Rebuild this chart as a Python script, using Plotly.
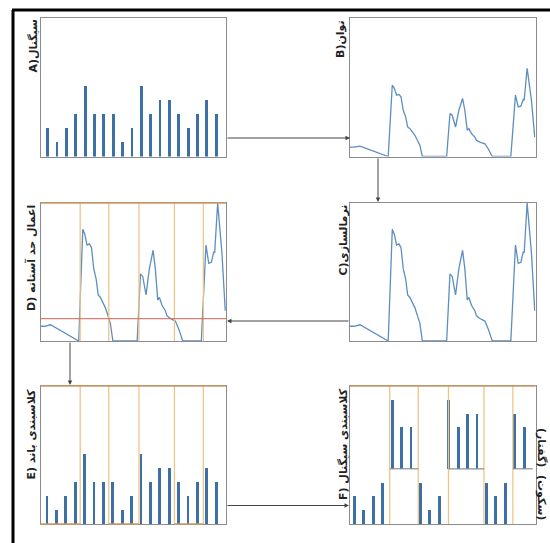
import plotly.graph_objects as go

W, H = 550, 543

# ---------------- data ----------------
bar_idx = list(range(19))
bar_vals = [2, 1, 2, 3, 5, 3, 3, 3, 1, 2, 5, 3, 4, 4, 3, 2, 3, 4, 3]
speech_flag = [0, 0, 0, 0, 1, 1, 1, 0, 0, 0, 1, 1, 1, 1, 0, 0, 0, 1, 1]

env_x = [0, 2.2, 5.4, 20.6, 22.8, 23.9, 25.1, 26.4, 27.5, 28.7, 30.0, 31.1, 32.3, 33.6,
         35.0, 36.4, 37.7, 39.0, 52.1, 53.9, 55.1, 56.9, 58.7, 60.7, 61.9, 63.2, 64.1,
         65.5, 67.3, 68.2, 70.0, 72.7, 74.5, 76.7, 86.7, 89.2, 90.7, 92.1, 93.4, 93.9,
         95.5, 97.8, 99.6]
env_y = [6.8, 6.8, 7.5, 0, 51.6, 49.2, 44.3, 44.8, 43.1, 33.4, 28.6, 21.3, 20.1, 17.7,
         15.3, 11.6, 8.0, 0, 0, 31.0, 29.8, 21.3, 33.4, 41.9, 33.4, 18.9, 20.1,
         16.5, 14.0, 11.6, 10.4, 9.2, 5.6, 0, 0, 44.3, 35.8, 36.3, 41.2, 40.7,
         63.7, 40.7, 14.0]
threshold = 10.3
seg_bounds = [21.4, 36.8, 53.1, 72.2, 87.8]   # percent of time axis
speech_base = 4

labels = {
    "A": "A)سیگنال",
    "B": "B)توان",
    "C": "C)نرمالسازی",
    "D": "D) اعمال حد آستانه",
    "E": "E) کلاسبندی باند",
    "F": "F) کلاسبندی سیگنال",
}
speech_txt = "(گفتار)"
silence_txt = "(سکوت)"

# --------------- layout helpers ---------------
def px(x):
    return x / W

def py(y):
    return 1 - y / H

LX = (40.5, 226)
RX = (350, 535.5)
R1 = (18, 156.5)
R2 = (203, 341)
R3 = (386, 524)

panels = {
    "A": (LX, R1, [-0.71, 19.1], [0, 9.8]),
    "B": (RX, R1, [0, 100], [0, 100]),
    "C": (RX, R2, [0, 100], [0, 63.7]),
    "D": (LX, R2, [0, 100], [0, 63.7]),
    "E": (LX, R3, [-0.64, 19.1], [0, 9.8]),
    "F": (RX, R3, [-0.46, 19.2], [0, 10]),
}
order = ["A", "B", "C", "D", "E", "F"]

fig = go.Figure()
layout = dict(width=W, height=H, margin=dict(l=0, r=0, t=0, b=0),
              paper_bgcolor="white", plot_bgcolor="white", showlegend=False)

axref = {}
for i, k in enumerate(order):
    n = "" if i == 0 else str(i + 1)
    (x0, x1), (y0, y1), xr, yr = panels[k]
    common = dict(showticklabels=False, showgrid=False, zeroline=False, ticks="",
                  showline=True, mirror=True, linecolor="#8c8c8c", linewidth=1.3,
                  fixedrange=True)
    layout["xaxis" + n] = dict(domain=[px(x0), px(x1)], range=xr, anchor="y" + n, **common)
    layout["yaxis" + n] = dict(domain=[py(y1), py(y0)], range=yr, anchor="x" + n, **common)
    axref[k] = ("x" + n, "y" + n)

BAR = "#3d71a5"
LINE = "#5b8fbf"
BW = 0.3

# A: signal bars
fig.add_trace(go.Bar(x=bar_idx, y=bar_vals, width=BW, marker_color=BAR,
                     marker_line_width=0, xaxis=axref["A"][0], yaxis=axref["A"][1]))
# B, C, D: envelope
for k in ["B", "C", "D"]:
    fig.add_trace(go.Scatter(x=env_x, y=env_y, mode="lines",
                             line=dict(color=LINE, width=1.3),
                             xaxis=axref[k][0], yaxis=axref[k][1]))
# E: bars
fig.add_trace(go.Bar(x=bar_idx, y=bar_vals, width=BW, marker_color=BAR,
                     marker_line_width=0, xaxis=axref["E"][0], yaxis=axref["E"][1]))
# F: bars split to speech / silence
sp_x = [x for x, f in zip(bar_idx, speech_flag) if f]
sp_y = [v for v, f in zip(bar_vals, speech_flag) if f]
si_x = [x for x, f in zip(bar_idx, speech_flag) if not f]
si_y = [v for v, f in zip(bar_vals, speech_flag) if not f]
fig.add_trace(go.Bar(x=sp_x, y=sp_y, base=[speech_base] * len(sp_x), width=BW,
                     marker_color=BAR, marker_line_width=0,
                     xaxis=axref["F"][0], yaxis=axref["F"][1]))
fig.add_trace(go.Bar(x=si_x, y=si_y, width=BW, marker_color=BAR, marker_line_width=0,
                     xaxis=axref["F"][0], yaxis=axref["F"][1]))

shapes = []
ORANGE = "#f0c487"
BROWN = "#d29a62"
for k in ["D", "E", "F"]:
    xa, ya = axref[k]
    for b in seg_bounds:
        shapes.append(dict(type="line", xref=xa + " domain", yref=ya + " domain",
                           x0=b / 100, x1=b / 100, y0=0, y1=1,
                           line=dict(color=ORANGE, width=1.3)))
    shapes.append(dict(type="line", xref=xa + " domain", yref=ya + " domain",
                       x0=0, x1=1, y0=1, y1=1, line=dict(color=BROWN, width=1.3)))
# E bottom: silence segments marked
xa, ya = axref["E"]
sil_ranges = [(0, seg_bounds[0]), (seg_bounds[1], seg_bounds[2]), (seg_bounds[3], seg_bounds[4])]
for a, b in sil_ranges:
    shapes.append(dict(type="line", xref=xa + " domain", yref=ya + " domain",
                       x0=a / 100, x1=b / 100, y0=0, y1=0, line=dict(color=BROWN, width=1.5)))
# threshold in D
xa, ya = axref["D"]
shapes.append(dict(type="line", xref=xa + " domain", yref=ya, x0=0, x1=1,
                   y0=threshold, y1=threshold, line=dict(color="#d9604f", width=1)))
# F speech baselines
xa, ya = axref["F"]
sp_ranges = [(seg_bounds[0], seg_bounds[1]), (seg_bounds[2], seg_bounds[3]), (seg_bounds[4], 98.5)]
for a, b in sp_ranges:
    shapes.append(dict(type="line", xref=xa + " domain", yref=ya, x0=a / 100, x1=b / 100,
                       y0=speech_base, y1=speech_base, line=dict(color="#8a8f96", width=1.2)))
# outer frame
shapes.append(dict(type="line", xref="paper", yref="paper", x0=px(12), x1=1.0,
                   y0=py(10), y1=py(10), line=dict(color="black", width=3)))
shapes.append(dict(type="line", xref="paper", yref="paper", x0=px(13), x1=px(13),
                   y0=py(10), y1=0, line=dict(color="black", width=3)))
layout["shapes"] = shapes

ann = []
# arrows (head, tail offset in px)
arrows = [((350, 138), (-124, 0)),
          ((378, 202), (0, -45)),
          ((227, 321), (123, 0)),
          ((70, 385), (0, -44)),
          ((349, 505.5), (-123, 0))]
for (hx, hy), (ax, ay) in arrows:
    ann.append(dict(x=px(hx), y=py(hy), xref="paper", yref="paper", text="",
                    showarrow=True, ax=ax, ay=ay, arrowhead=2, arrowsize=0.9,
                    arrowwidth=1, arrowcolor="#444"))

FONT = dict(family="DejaVu Sans, Noto Sans", size=11, color="#222")
lab_pos = {"A": (33, 18), "B": (340, 18), "C": (343, 203), "D": (31, 203),
           "E": (31, 387), "F": (343, 386)}
for k, (lx, ly) in lab_pos.items():
    ann.append(dict(x=px(lx), y=py(ly), xref="paper", yref="paper",
                    text="<b>" + labels[k] + "</b>", showarrow=False, textangle=-90,
                    xanchor="center", yanchor="top", font=FONT))
ann.append(dict(x=px(542), y=py(447), xref="paper", yref="paper", text="<b>" + speech_txt + "</b>",
                showarrow=False, textangle=90, xanchor="center", yanchor="middle", font=FONT))
ann.append(dict(x=px(542), y=py(497), xref="paper", yref="paper", text="<b>" + silence_txt + "</b>",
                showarrow=False, textangle=90, xanchor="center", yanchor="middle", font=FONT))
layout["annotations"] = ann
layout["bargap"] = 0

fig.update_layout(**layout)
fig.write_html("out.html")
